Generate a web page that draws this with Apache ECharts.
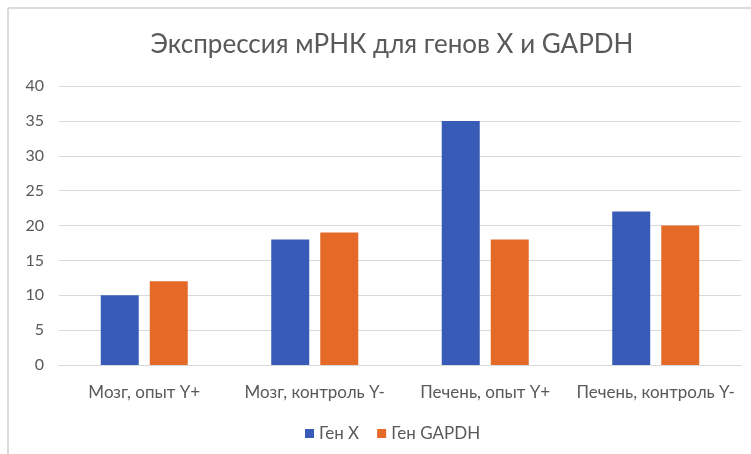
<!DOCTYPE html>
<html>
<head>
<meta charset="utf-8">
<script src="https://cdn.jsdelivr.net/npm/echarts@6/dist/echarts.min.js"></script>
<style>
  html, body { margin: 0; padding: 0; background: #fff; }
  #chart { width: 751px; height: 454px; }
</style>
</head>
<body>
<div id="chart"></div>
<script>
var categories = ['Мозг, опыт Y+', 'Мозг, контроль Y-', 'Печень, опыт Y+', 'Печень, контроль Y-'];
var genX = [10, 18, 35, 22];
var genGAPDH = [12, 19, 18, 20];
var yTicks = { min: 0, max: 40, interval: 5 };

var chart = echarts.init(document.getElementById('chart'));
var font = 'Lato, "Open Sans", sans-serif';

var option = {
    backgroundColor: '#fff',
    animation: false,
    title: {
        text: 'Экспрессия мРНК для генов X и GAPDH',
        left: 387,
        top: 27,
        textAlign: 'center',
        textStyle: { fontFamily: font, fontSize: 26, fontWeight: 'normal', color: '#595959' }
    },
    legend: {
        top: 420,
        left: 300,
        itemWidth: 9,
        itemHeight: 9,
        itemGap: 18,
        icon: 'rect',
        textStyle: { fontFamily: font, fontSize: 17, color: '#595959' },
        data: ['Ген X', 'Ген GAPDH']
    },
    grid: { left: 59, right: 10, top: 86, bottom: 89, containLabel: false },
    xAxis: {
        type: 'category',
        data: categories,
        axisLine: { lineStyle: { color: '#d9d9d9', width: 1 } },
        axisTick: { show: false },
        axisLabel: { fontFamily: font, fontSize: 17, color: '#595959', margin: 19, interval: 0 }
    },
    yAxis: {
        type: 'value',
        min: yTicks.min,
        max: yTicks.max,
        interval: yTicks.interval,
        axisLine: { show: false },
        axisTick: { show: false },
        axisLabel: { fontFamily: font, fontSize: 16, color: '#595959', margin: 15 },
        splitLine: { lineStyle: { color: '#d9d9d9', width: 1 } }
    },
    series: [
        { name: 'Ген X', type: 'bar', data: genX, barWidth: 38, barGap: '29%', itemStyle: { color: '#375bb6' } },
        { name: 'Ген GAPDH', type: 'bar', data: genGAPDH, barWidth: 38, itemStyle: { color: '#e56a28' } }
    ],
    graphic: [
        { type: 'line', shape: { x1: 8, y1: 8, x2: 751, y2: 8 }, style: { stroke: '#d0d0d0', lineWidth: 1.5 } },
        { type: 'line', shape: { x1: 8, y1: 8, x2: 8, y2: 454 }, style: { stroke: '#d0d0d0', lineWidth: 1.5 } }
    ]
};
chart.setOption(option);
</script>
</body>
</html>
